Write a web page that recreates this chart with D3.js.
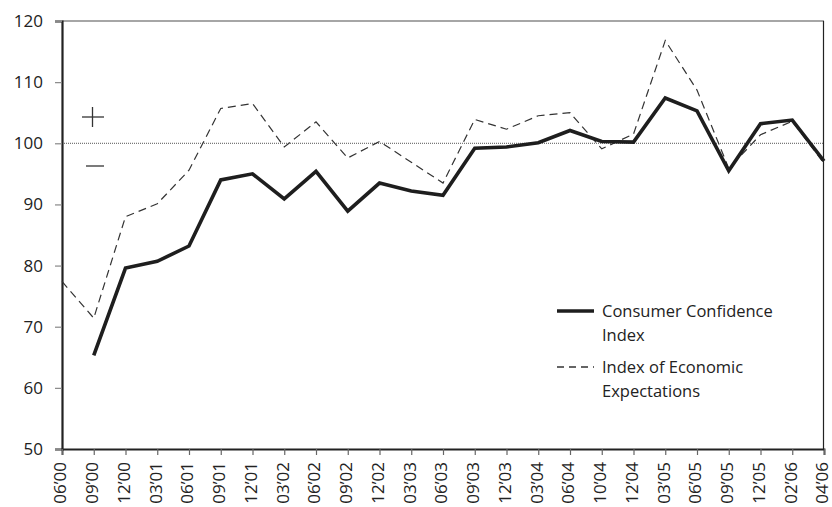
<!DOCTYPE html>
<html><head><meta charset="utf-8">
<script src="https://cdn.jsdelivr.net/npm/d3@7/dist/d3.min.js"></script>
<style>
html,body{margin:0;padding:0;background:#fff;}
svg{display:block;}
text{font-family:"Open Sans",sans-serif;fill:#222;}
</style></head>
<body>
<svg id="chart" width="832" height="507"></svg>
<script>
const categories = ["06’00","09’00","12’00","03’01","06’01","09’01","12’01","03’02","06’02","09’02","12’02","03’03","06’03","09’03","12’03","03’04","06’04","10’04","12’04","03’05","06’05","09’05","12’05","02’06","04’06"];
const consumerConfidence = [null,65.3,79.6,80.7,83.2,94.0,95.0,90.9,95.4,88.9,93.5,92.2,91.5,99.2,99.4,100.1,102.1,100.3,100.2,107.4,105.3,95.5,103.2,103.8,97.1];
const economicExpectations = [77.4,71.4,88.0,90.1,95.6,105.7,106.5,99.4,103.5,97.6,100.3,96.9,93.5,103.9,102.3,104.5,105.0,99.1,101.5,116.8,108.7,95.9,101.4,103.6,96.7];
const yTicks = [50,60,70,80,90,100,110,120];
const referenceValue = 100;
const legendLabels = [["Consumer Confidence","Index"],["Index of Economic","Expectations"]];

const svg = d3.select("#chart");
const L = 62, R = 824, T = 21, B = 449;
const x = d3.scalePoint().domain(categories).range([L, R]);
const y = d3.scaleLinear().domain([50,120]).range([B, T]);

// top border (gray)
svg.append("line").attr("x1",L).attr("x2",R).attr("y1",T).attr("y2",T)
  .attr("stroke","#888").attr("stroke-width",1.3);
// right border
svg.append("line").attr("x1",R-0.5).attr("x2",R-0.5).attr("y1",T).attr("y2",B)
  .attr("stroke","#222").attr("stroke-width",1.2);

// reference line
svg.append("line").attr("x1",L).attr("x2",R).attr("y1",y(referenceValue)).attr("y2",y(referenceValue))
  .attr("stroke","#555").attr("stroke-width",1).attr("stroke-dasharray","1,1");

// y axis
const yAxis = svg.append("g").attr("transform",`translate(${L},0)`)
  .call(d3.axisLeft(y).tickValues(yTicks).tickSize(7).tickPadding(12).tickFormat(d3.format("d")));
yAxis.select(".domain").attr("stroke","#222").attr("stroke-width",2.2);
yAxis.selectAll(".tick line").attr("stroke","#888").attr("stroke-width",1.2);
yAxis.selectAll(".tick text").attr("font-size",17).attr("fill","#333").style("font-family","Open Sans");

// x axis
const xAxis = svg.append("g").attr("transform",`translate(0,${B})`)
  .call(d3.axisBottom(x).tickSize(6).tickPadding(0));
xAxis.select(".domain").attr("stroke","#222").attr("stroke-width",1.8);
xAxis.selectAll(".tick line").attr("stroke","#666").attr("stroke-width",1.2);
xAxis.selectAll(".tick text")
  .attr("font-size",17).attr("fill","#333").style("font-family","Open Sans")
  .attr("text-anchor","end")
  .attr("transform","translate(-2,13) rotate(-90)")
  .attr("x",0).attr("y",0).attr("dy","0.35em");

// lines
const line = d3.line().defined(d => d.v != null).x(d => x(d.c)).y(d => y(d.v));
svg.append("path")
  .datum(categories.map((c,i)=>({c, v: economicExpectations[i]})))
  .attr("d", line).attr("fill","none").attr("stroke","#333").attr("stroke-width",1.2)
  .attr("stroke-dasharray","8,5");
svg.append("path")
  .datum(categories.map((c,i)=>({c, v: consumerConfidence[i]})))
  .attr("d", line).attr("fill","none").attr("stroke","#1e1e1e").attr("stroke-width",3.6)
  .attr("stroke-linejoin","miter");

// + and − markers
const plus = svg.append("g");
plus.append("line").attr("x1",82).attr("x2",104).attr("y1",117).attr("y2",117).attr("stroke","#333").attr("stroke-width",1.3);
plus.append("line").attr("x1",92.5).attr("x2",92.5).attr("y1",107).attr("y2",127).attr("stroke","#333").attr("stroke-width",1.3);
svg.append("line").attr("x1",86).attr("x2",104).attr("y1",166).attr("y2",166).attr("stroke","#333").attr("stroke-width",1.3);

// legend
const lg = svg.append("g");
const legendY = [311, 367];
lg.append("line").attr("x1",557).attr("x2",594).attr("y1",legendY[0]).attr("y2",legendY[0]).attr("stroke","#1e1e1e").attr("stroke-width",3.6);
lg.append("line").attr("x1",557).attr("x2",594).attr("y1",legendY[1]).attr("y2",legendY[1]).attr("stroke","#333").attr("stroke-width",1.3).attr("stroke-dasharray","7,5");
legendLabels.forEach((lines,i)=>{
  lines.forEach((t,j)=>{
    lg.append("text").attr("x",602).attr("y",legendY[i]+j*24).attr("dy","0.35em")
      .attr("font-size",16.5).attr("fill","#222").text(t);
  });
});
</script>
</body></html>
